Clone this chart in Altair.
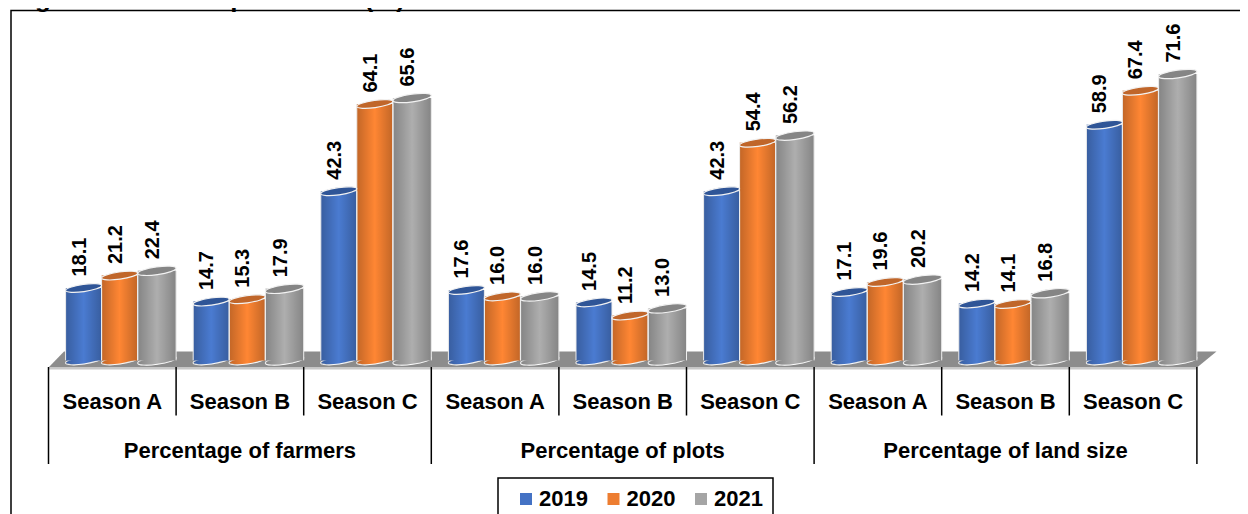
import altair as alt
import pandas as pd

groups = ["Percentage of farmers", "Percentage of plots", "Percentage of land size"]
seasons = ["Season A", "Season B", "Season C"]
years = ["2019", "2020", "2021"]
v2019 = [18.1, 14.7, 42.3, 17.6, 14.5, 42.3, 17.1, 14.2, 58.9]
v2020 = [21.2, 15.3, 64.1, 16.0, 11.2, 54.4, 19.6, 14.1, 67.4]
v2021 = [22.4, 17.9, 65.6, 16.0, 13.0, 56.2, 20.2, 16.8, 71.6]
colors = ["#4472C4", "#ED7D31", "#A5A5A5"]
bright = ["#4A7BD1", "#FF8633", "#AEAEAE"]
tops = ["#2F5597", "#C0662A", "#858585"]

FONT = "Liberation Sans"
W, H = 1232, 506
PX_X = 127.6          # pixels per season
PX_Y = 4.0            # pixels per percentage point
LEFT = 40.5           # chart x of the first season boundary
ZERO = 352.4          # chart y of value 0
def ux(px): return (px - LEFT) / PX_X
def uy(py): return (ZERO - py) / PX_Y

offs = [0.134, 0.416, 0.700]
wids = [0.282, 0.282, 0.300]
rows = []
for s in range(9):
    for k, vals in enumerate([v2019, v2020, v2021]):
        x0 = s + offs[k]
        x1 = x0 + wids[k]
        rows.append(dict(year=years[k], value=vals[s], base=0.0, x0=x0, x1=x1,
                         xc=(x0 + x1) / 2, size=(wids[k] * PX_X) ** 2,
                         label=f"{vals[s]:.1f}"))
df = pd.DataFrame(rows)

xs = alt.Scale(domain=[ux(0), ux(W)], range=[0, W])
ys = alt.Scale(domain=[uy(H), uy(0)], range=[H, 0])
X = lambda f: alt.X(f, type="quantitative", scale=xs, axis=None, title=None)
Y = lambda f: alt.Y(f, type="quantitative", scale=ys, axis=None, title=None)

ELL = "M-1,0.14 A1,0.2,-8,0,1,1,-0.14 A1,0.2,-8,0,1,-1,0.14 Z"
shade = alt.Gradient(gradient="linear", x1=0, x2=1, y1=0, y2=0, stops=[
    alt.GradientStop(offset=0, color="rgba(0,0,0,0.24)"),
    alt.GradientStop(offset=0.5, color="rgba(0,0,0,0)"),
    alt.GradientStop(offset=1, color="rgba(0,0,0,0.24)"),
])
SIZE = alt.Size("size:Q", scale=None, legend=None)
legend = alt.Legend(
    title=None, orient="none", legendX=507, legendY=480, direction="horizontal", columns=3,
    symbolType="square", symbolSize=144, symbolStrokeWidth=0, symbolOpacity=1,
    labelFont=FONT, labelFontSize=22, labelFontWeight="bold", labelColor="black",
    labelOffset=2, columnPadding=14.5, padding=0)
fill_enc = alt.Fill("year:N", scale=alt.Scale(domain=years, range=bright), legend=None)

# hidden layer that only carries the legend, painted over by the frame
legend_layer = alt.Chart(df).mark_point(filled=True, size=4).encode(
    x=X("xc"), y=Y("base"),
    color=alt.Color("year:N", scale=alt.Scale(domain=years, range=colors), legend=legend))

# frame
frame = alt.Chart(pd.DataFrame([dict(a=ux(3), b=ux(W + 20), c=uy(2.5), d=uy(H + 20))])).mark_rect(
    fill="white", stroke="black", strokeWidth=1.5
).encode(x=X("a"), x2="b", y=Y("c"), y2="d")

# floor
floor_df = pd.DataFrame(dict(
    x=[ux(40.5), ux(56), ux(1189), ux(1208.5)],
    top=[uy(359.5), uy(343.5), uy(343.5), uy(343.5)],
    bot=[uy(359.5), uy(359.5), uy(359.5), uy(343.5)],
))
floor = alt.Chart(floor_df).mark_area(color="#8C8C8C", interpolate="linear").encode(
    x=X("x"), y=Y("top"), y2="bot")
strip = alt.Chart(pd.DataFrame([dict(a=0.0, b=9.0, y=uy(360.5))])).mark_rule(
    color="#C8C8C8", strokeWidth=2).encode(x=X("a"), x2="b", y=Y("y"))

# category separators
sep = alt.Chart(pd.DataFrame(
    [dict(x=float(i), y=uy(359), y2=uy(456 if i % 3 == 0 else 407.5)) for i in range(10)]
)).mark_rule(color="black", strokeWidth=1.5).encode(x=X("x"), y=Y("y"), y2="y2")

# legend box
box = alt.Chart(pd.DataFrame([dict(a=ux(490), b=ux(765), c=uy(470), d=uy(H + 20))])).mark_rect(
    fill="white", stroke="black", strokeWidth=1.5
).encode(x=X("a"), x2="b", y=Y("c"), y2="d")

# cylinders
bottom = alt.Chart(df).mark_point(shape=ELL, filled=True, opacity=1, stroke="white", strokeWidth=1.2).encode(
    x=X("xc"), y=Y("base"), fill=fill_enc, size=SIZE)
bottom2 = alt.Chart(df).mark_point(shape=ELL, filled=True, opacity=1, fill=shade).encode(
    x=X("xc"), y=Y("base"), size=SIZE)
bars = alt.Chart(df).mark_rect().encode(
    x=X("x0"), x2="x1", y=Y("value"), y2="base", fill=fill_enc)
over = alt.Chart(df).mark_rect(fill=shade).encode(
    x=X("x0"), x2="x1", y=Y("value"), y2="base")
side_l = alt.Chart(df).mark_rule(color="#EDEDED", strokeWidth=1).encode(x=X("x0"), y=Y("value"), y2="base")
side_r = alt.Chart(df).mark_rule(color="#EDEDED", strokeWidth=1).encode(x=X("x1"), y=Y("value"), y2="base")
top = alt.Chart(df).mark_point(shape=ELL, filled=True, opacity=1, stroke="#F2F2F2", strokeWidth=1.2).encode(
    x=X("xc"), y=Y("value"), size=SIZE,
    fill=alt.Fill("year:N", scale=alt.Scale(domain=years, range=tops), legend=None))
labels = alt.Chart(df).mark_text(
    font=FONT, fontSize=20, fontWeight="bold", color="black", angle=270,
    align="left", baseline="middle", yOffset=-11.5, xOffset=-4
).encode(x=X("xc"), y=Y("value"), text="label")

# category labels
season_df = pd.DataFrame([dict(x=i + 0.5, y=uy(394), t=seasons[i % 3]) for i in range(9)])
group_df = pd.DataFrame([dict(x=3 * i + 1.5, y=uy(443), t=groups[i]) for i in range(3)])
txt = lambda d: alt.Chart(d).mark_text(
    font=FONT, fontSize=22, fontWeight="bold", color="black", align="center", baseline="middle"
).encode(x=X("x"), y=Y("y"), text="t")

# chart title, cut by the top edge as in the source
title = alt.Chart(pd.DataFrame([dict(x=ux(4), y=uy(-1), t="Figure 10: Use of pesticides (%)")])).mark_text(
    font="Liberation Sans", fontSize=26, fontWeight="bold", color="black", align="left", baseline="alphabetic"
).encode(x=X("x"), y=Y("y"), text="t")

chart = alt.layer(
    legend_layer, frame, box, floor, strip, sep, bottom, bottom2, bars, over, side_l, side_r, top, labels,
    txt(season_df), txt(group_df), title
).resolve_scale(fill="independent").properties(
    width=W, height=H, padding=0, autosize=alt.AutoSizeParams(type="none"),
).configure_view(stroke=None)

chart.save("out.html", embed_options={"renderer": "svg", "actions": False})
